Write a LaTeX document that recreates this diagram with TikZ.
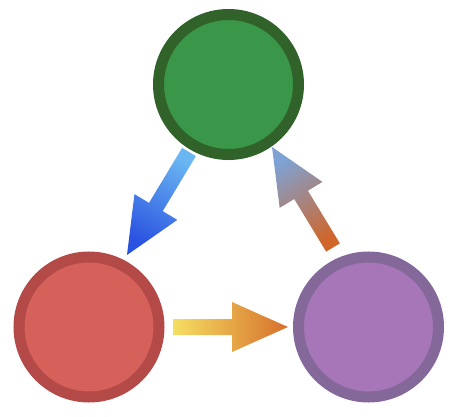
\documentclass[tikz,border=0pt]{standalone}
\usetikzlibrary{calc}
\definecolor{gfill}{HTML}{3A9648}
\definecolor{gline}{HTML}{31622A}
\definecolor{rfill}{HTML}{D6605A}
\definecolor{rline}{HTML}{B44A47}
\definecolor{pfill}{HTML}{A676B8}
\definecolor{pline}{HTML}{84689A}
\definecolor{bluetail}{HTML}{6AB6F2}
\definecolor{bluetip}{HTML}{2A52E0}
\definecolor{ortail}{HTML}{F6DE62}
\definecolor{ortip}{HTML}{D6702C}
\definecolor{gytail}{HTML}{D0662A}
\definecolor{gytip}{HTML}{7EA2D4}
\newcommand{\fatarrow}[5]{%
  \coordinate (#1-b) at ($(#2)!56pt!(#1)$);
  \path[left color=#4, right color=#5, shading angle=#3]
    ($(#1)!8pt!-90:(#2)$) -- ($(#1-b)!8pt!-90:(#2)$) -- ($(#1-b)!25pt!-90:(#2)$)
    -- (#2) -- ($(#1-b)!25pt!90:(#2)$) -- ($(#1-b)!8pt!90:(#2)$)
    -- ($(#1)!8pt!90:(#2)$) -- cycle;}
\tikzset{ball/.style={circle, minimum size=140pt, inner sep=0pt, line width=11pt}}
\begin{document}
\begin{tikzpicture}[x=1pt,y=1pt]
\useasboundingbox (0,0) rectangle (453,416);
\node[ball, draw=gline, fill=gfill] (green) at (228.5,331.5) {};
\node[ball, draw=rline, fill=rfill] (red) at (89,89) {};
\node[ball, draw=pline, fill=pfill] (purple) at (368.5,89) {};
\coordinate (bt) at (189,264);
\coordinate (bh) at (127,161);
\coordinate (ot) at (173,89);
\coordinate (oh) at (288,89);
\coordinate (gt) at (333,168.5);
\coordinate (gh) at (272,269);
\fatarrow{bt}{bh}{330.9}{bluetail}{bluetip}
\fatarrow{ot}{oh}{90}{ortail}{ortip}
\fatarrow{gt}{gh}{211.3}{gytail}{gytip}
\end{tikzpicture}
\end{document}
